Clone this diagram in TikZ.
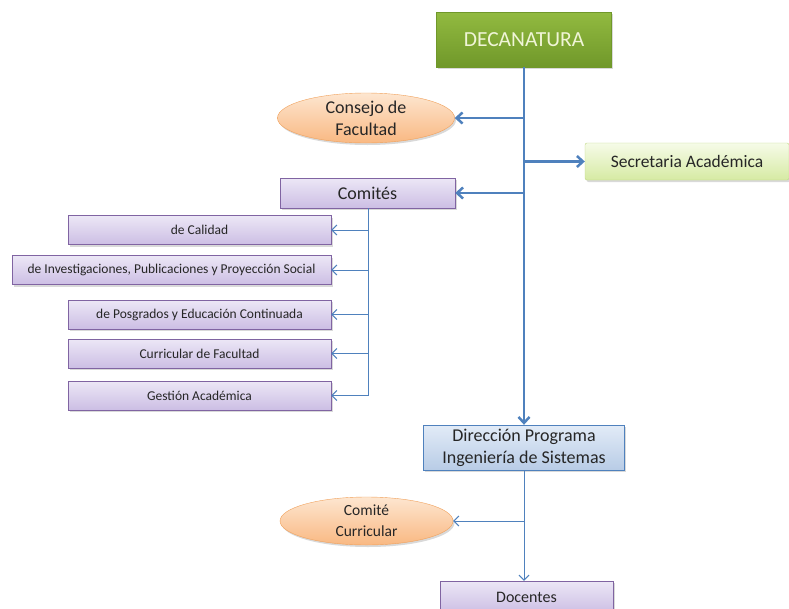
\documentclass[tikz,border=0pt]{standalone}
\usepackage{fontspec}
\setmainfont{Carlito}
\usetikzlibrary{arrows.meta, shapes, shadows}
\usepackage{xcolor}
\definecolor{decatop}{RGB}{146,186,64}
\definecolor{decabottom}{RGB}{112,152,42}
\definecolor{decatext}{RGB}{240,245,215}
\definecolor{linkblue}{RGB}{79,129,189}
\definecolor{orangetop}{RGB}{253,230,208}
\definecolor{orangebottom}{RGB}{249,184,130}
\definecolor{orangeborder}{RGB}{240,160,90}
\definecolor{limetop}{RGB}{246,251,232}
\definecolor{limebottom}{RGB}{214,234,163}
\definecolor{limeborder}{RGB}{190,215,130}
\definecolor{lilactop}{RGB}{236,231,246}
\definecolor{lilacbottom}{RGB}{204,190,228}
\definecolor{lilacborder}{RGB}{128,100,162}
\definecolor{bluetop}{RGB}{226,235,247}
\definecolor{bluebottom}{RGB}{184,204,230}
\definecolor{boxtext}{RGB}{38,38,38}
\tikzset{boxshadow/.style={drop shadow={shadow xshift=1.5pt, shadow yshift=-2pt, opacity=0.3}}}
\tikzset{decabox/.style={rectangle, top color=decatop, bottom color=decabottom, draw=decabottom, boxshadow, minimum width=175pt, minimum height=55pt, text=decatext, font=\fontsize{21.5}{24}\selectfont},
         orangeoval/.style={ellipse, top color=orangetop, bottom color=orangebottom, draw=orangeborder, boxshadow, minimum width=177pt, minimum height=50pt, inner sep=0pt, align=center, text=boxtext, font=\fontsize{18}{22}\selectfont},
         smalloval/.style={orangeoval, minimum width=173pt, minimum height=48pt, font=\fontsize{15.5}{21}\selectfont}}
\tikzset{limebox/.style={rectangle, rounded corners=2pt, top color=limetop, bottom color=limebottom, draw=limeborder, boxshadow, minimum width=204pt, minimum height=37pt, text=boxtext, font=\fontsize{17.5}{20}\selectfont},
         lilacbox/.style={rectangle, top color=lilactop, bottom color=lilacbottom, draw=lilacborder, boxshadow, minimum width=175pt, minimum height=30pt, inner sep=2pt, text=boxtext, font=\fontsize{18}{20}\selectfont},
         sublilacbox/.style={lilacbox, minimum width=263pt, minimum height=29pt, font=\fontsize{13.5}{15}\selectfont},
         bluebox/.style={rectangle, top color=bluetop, bottom color=bluebottom, draw=linkblue, boxshadow, minimum width=201pt, minimum height=45pt, inner sep=1pt, align=center, text=boxtext, font=\fontsize{18}{22}\selectfont}}
\tikzset{mainlink/.style={draw=linkblue, line width=2.5pt, -{Straight Barb[length=6pt, width=11pt]}},
         sublink/.style={draw=linkblue, line width=1pt, -{Straight Barb[length=5pt, width=10pt]}}}

\begin{document}
\begin{tikzpicture}
        \useasboundingbox (0pt, 0pt) rectangle (789pt, -608pt);
        % Nodes
        \node[decabox] (deca) at (524pt, -39.5pt) {DECANATURA};
        \node[orangeoval] (consejo) at (366pt, -118pt) {Consejo de\\Facultad};
        \node[limebox] (secre) at (687pt, -161.5pt) {Secretaria Académica};
        \node[lilacbox] (comites) at (367.5pt, -193pt) {Comités};
        \node[sublilacbox] (calidad) at (199.5pt, -230pt) {de Calidad};
        \node[sublilacbox, minimum width=319pt] (investig) at (171.5pt, -270pt) {de Investigaciones, Publicaciones y Proyección Social};
        \node[sublilacbox] (posgrados) at (199.5pt, -314.5pt) {de Posgrados y Educación Continuada};
        \node[sublilacbox] (curricular) at (199.5pt, -353.5pt) {Curricular de Facultad};
        \node[sublilacbox] (gestion) at (199.5pt, -395.5pt) {Gestión Académica};
        \node[bluebox] (direccion) at (524pt, -447.5pt) {Dirección Programa\\Ingeniería de Sistemas};
        \node[smalloval] (comitecur) at (366.5pt, -521pt) {Comité\\Curricular};
        \node[lilacbox, minimum width=173pt, minimum height=32pt, font=\fontsize{16}{18}\selectfont] (docentes) at (526.5pt, -597pt) {Docentes};
        % Branch points
        \coordinate (jconsejo) at (524pt, -118pt);
        \coordinate (jsecre) at (524pt, -161.5pt);
        \coordinate (jcomites) at (524pt, -193pt);
        \coordinate (jdoc) at (524pt, -521pt);
        \coordinate (scalidad) at (368pt, -230pt);
        \coordinate (sinvestig) at (368pt, -270pt);
        \coordinate (sposgrados) at (368pt, -314.5pt);
        \coordinate (scurricular) at (368pt, -353.5pt);
        \coordinate (sgestion) at (368pt, -395.5pt);
        % Main links
        \draw[mainlink] (deca) -- (direccion);
        \draw[mainlink] (jconsejo) -- (consejo);
        \draw[mainlink] (jsecre) -- (secre);
        \draw[mainlink] (jcomites) -- (comites);
        % Committee links
        \draw[draw=linkblue, line width=1pt] (comites.south -| sgestion) -- (sgestion);
        \foreach \sub in {calidad, investig, posgrados, curricular, gestion} {
            \draw[sublink] (s\sub) -- (\sub);
        }
        % Program links
        \draw[sublink] (direccion) -- (docentes.north -| direccion);
        \draw[sublink] (jdoc) -- (comitecur);
    \end{tikzpicture}
\end{document}
